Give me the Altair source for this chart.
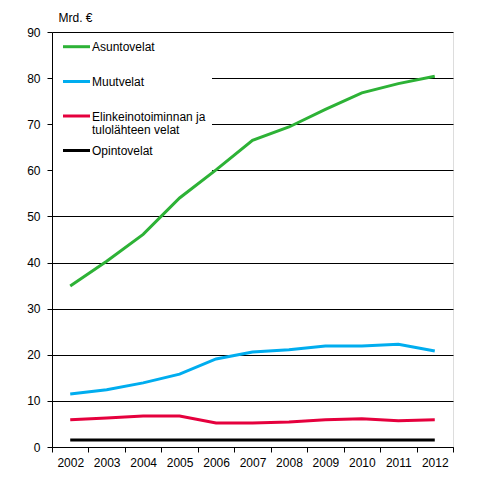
import altair as alt
import pandas as pd

years = [str(y) for y in range(2002, 2013)]
series_names = ["Asuntovelat", "Muutvelat", "Elinkeinotoiminnan ja tulolähteen velat", "Opintovelat"]
asuntovelat = [34.9, 40.3, 46.1, 54.0, 60.1, 66.5, 69.4, 73.2, 76.8, 78.8, 80.4]
muutvelat = [11.5, 12.4, 13.9, 15.8, 19.1, 20.6, 21.1, 21.9, 21.9, 22.3, 20.8]
elinkeino = [5.9, 6.3, 6.7, 6.7, 5.2, 5.2, 5.4, 5.9, 6.1, 5.7, 5.9]
opinto = [1.5, 1.5, 1.5, 1.5, 1.5, 1.5, 1.5, 1.5, 1.5, 1.5, 1.5]
y_ticks = list(range(0, 91, 10))

colors = ["#2db236", "#00adef", "#e5003d", "#000000"]
legend_lines = [["Asuntovelat"], ["Muutvelat"], ["Elinkeinotoiminnan ja", "tulolähteen velat"], ["Opintovelat"]]

rows = []
for name, vals in zip(series_names, [asuntovelat, muutvelat, elinkeino, opinto]):
    for yr, v in zip(years, vals):
        rows.append({"year": yr, "value": v, "series": name})
df = pd.DataFrame(rows)

FONT = "Liberation Sans"

base = alt.Chart(df)

x_enc = alt.X(
    "year:O",
    bandPosition=0.5,
    scale=alt.Scale(type="band", paddingInner=0, paddingOuter=0),
    axis=alt.Axis(title=None, labelAngle=0, tickBand="extent", tickSize=5,
                  labelPadding=5, domainColor="black", tickColor="black",
                  labelColor="black", labelFont=FONT, labelFontSize=12),
)
y_enc = alt.Y(
    "value:Q",
    scale=alt.Scale(domain=[0, 90], nice=False, zero=True),
    axis=alt.Axis(values=y_ticks, title="Mrd. €", titleAngle=0, titleX=6, titleY=-11,
                  titleAlign="left", titleBaseline="alphabetic", titleFont=FONT,
                  titleFontSize=12, titleFontWeight="normal", titleColor="black",
                  grid=True, gridColor="black", gridOpacity=1, gridWidth=1,
                  tickSize=5, labelPadding=7, domainColor="black", tickColor="black",
                  labelColor="black", labelFont=FONT, labelFontSize=12),
)

# white box behind legend (covers gridlines)
box = alt.Chart(pd.DataFrame({"a": [0]})).mark_rect(color="white").encode(
    x=alt.value(1), x2=alt.value(160), y=alt.value(1), y2=alt.value(139)
)

lines = base.mark_line(strokeWidth=3).encode(
    x=x_enc,
    y=y_enc,
    color=alt.Color("series:N", scale=alt.Scale(domain=series_names, range=colors), legend=None),
    detail="series:N",
)

legend_layers = []
centers = [14.7, 49.5, 84, 118.5]
for name, lbl, col, cy in zip(series_names, legend_lines, colors, centers):
    d = pd.DataFrame({"a": [0]})
    legend_layers.append(
        alt.Chart(d).mark_rule(color=col, strokeWidth=3).encode(
            x=alt.value(11), x2=alt.value(38), y=alt.value(cy)
        )
    )
    legend_layers.append(
        alt.Chart(d).mark_text(align="left", baseline="alphabetic", font=FONT, fontSize=12,
                               color="black", lineHeight=13,
                               text=lbl if len(lbl) > 1 else lbl[0]).encode(
            x=alt.value(40), y=alt.value(cy + 4.5)
        )
    )

chart = alt.layer(box, lines, *legend_layers).properties(
    width=401, height=415,
    padding={"left": 44, "top": 24, "right": 25, "bottom": 35},
    autosize="none",
).configure_view(stroke="black", strokeWidth=1).configure(background="white")

chart.save("out.html", embed_options={"renderer": "svg", "actions": False})
